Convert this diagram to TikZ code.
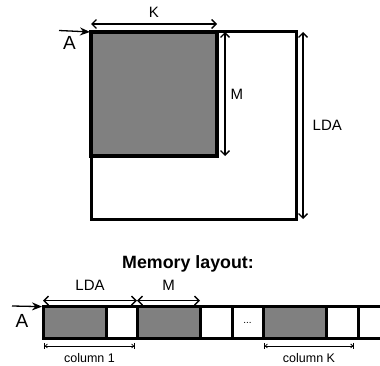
\documentclass[tikz,border=0pt]{standalone}
\usepackage{fontspec}
\setmainfont{Liberation Sans}
\usetikzlibrary{arrows.meta,calc}

\begin{document}
\begin{tikzpicture}[
    x=1pt, y=1pt,
    % Styles
    block/.style={
        draw=black, line width=3pt, fill=#1,
        inner sep=0pt, outer sep=0pt,
    },
    block/.default={white},
    dimarr/.style={{Straight Barb[length=4.5pt,width=9pt]}-{Straight Barb[length=4.5pt,width=9pt]}, line width=1.4pt},
    ptr/.style={-{Stealth[length=10pt,width=8pt]}, line width=1.3pt},
    spanarr/.style={{Bar[width=6pt]Straight Barb[length=2pt,width=4pt]}-{Straight Barb[length=2pt,width=4pt]Bar[width=6pt]}, line width=0.8pt},
    lbl/.style={font=\fontsize{15}{18}\selectfont, inner sep=0pt},
    biglbl/.style={font=\fontsize{19}{22}\selectfont, inner sep=0pt},
    smalllbl/.style={font=\fontsize{12.5}{15}\selectfont, inner sep=0pt},
]
\useasboundingbox (0,0) rectangle (380,365);
\clip (0,0) rectangle (380,365);

% ================================================================
% MATRIX: LDA x K storage, M x K part used
% ================================================================
\node[block, minimum width=205pt, minimum height=187pt] (ldabox) at (193.5, 239.5) {};
\node[block=gray, line width=3.2pt, minimum width=126pt, minimum height=124pt] (sub) at (154, 271) {};

\coordinate (atop) at (59, 334.5);
\draw[ptr, shorten >=1pt] (atop) -- (sub.north west);
\node[biglbl] (lbltop) at (69.5, 322) {A};

\draw[dimarr]
    ([yshift=8pt]sub.north west) -- ([yshift=8pt]sub.north east)
    node[lbl, midway, above=6pt] {K};
\draw[dimarr]
    ([xshift=8pt]sub.north east) -- ([xshift=8pt]sub.south east)
    node[lbl, midway, right=5pt] {M};
\draw[dimarr]
    ([xshift=7pt]ldabox.north east) -- ([xshift=7pt]ldabox.south east)
    node[lbl, midway, right=9pt] {LDA};

% ================================================================
% MEMORY LAYOUT
% ================================================================
\node[font=\fontsize{17.8}{20}\selectfont\bfseries, inner sep=0pt, anchor=base]
    (title) at (188, 96.7) {Memory layout:};

\node[block=gray, minimum width=63pt, minimum height=32.3pt] (c1) at (74.5, 42.2) {};
\node[block, minimum width=31pt, minimum height=32.3pt] (c2) at (121.5, 42.2) {};
\node[block=gray, minimum width=63pt, minimum height=32.3pt] (c3) at (168.5, 42.2) {};
\node[block, minimum width=32pt, minimum height=32.3pt] (c4) at (216, 42.2) {};
\node[block, minimum width=31pt, minimum height=32.3pt,
      font=\fontsize{10}{12}\selectfont] (c5) at (247.5, 42.2) {...};
\node[block=gray, minimum width=63pt, minimum height=32.3pt] (c6) at (294.5, 42.2) {};
\node[block, minimum width=32pt, minimum height=32.3pt] (c7) at (342, 42.2) {};
\node[block, minimum width=32pt, minimum height=32.3pt] (c8) at (374, 42.2) {};

\coordinate (abot) at (12, 59);
\draw[ptr, shorten >=1pt] (abot) -- (c1.north west);
\node[biglbl] (lblbot) at (22, 44) {A};

\draw[dimarr]
    ([yshift=6pt]c1.north west) -- ([yshift=6pt]c3.north west)
    node[lbl, midway, above=9pt] {LDA};
\draw[dimarr]
    ([yshift=6pt]c3.north west) -- ([yshift=6pt]c3.north east)
    node[lbl, midway, above=9pt] {M};

\draw[spanarr]
    ([xshift=1pt, yshift=-7pt]c1.south west) -- ([xshift=-2pt, yshift=-7pt]c2.south east)
    node[smalllbl, midway, below=7pt] {column 1};
\draw[spanarr]
    ([xshift=1pt, yshift=-7pt]c6.south west) -- ([xshift=-4pt, yshift=-7pt]c7.south east)
    node[smalllbl, midway, below=7pt] {column K};

\end{tikzpicture}
\end{document}
